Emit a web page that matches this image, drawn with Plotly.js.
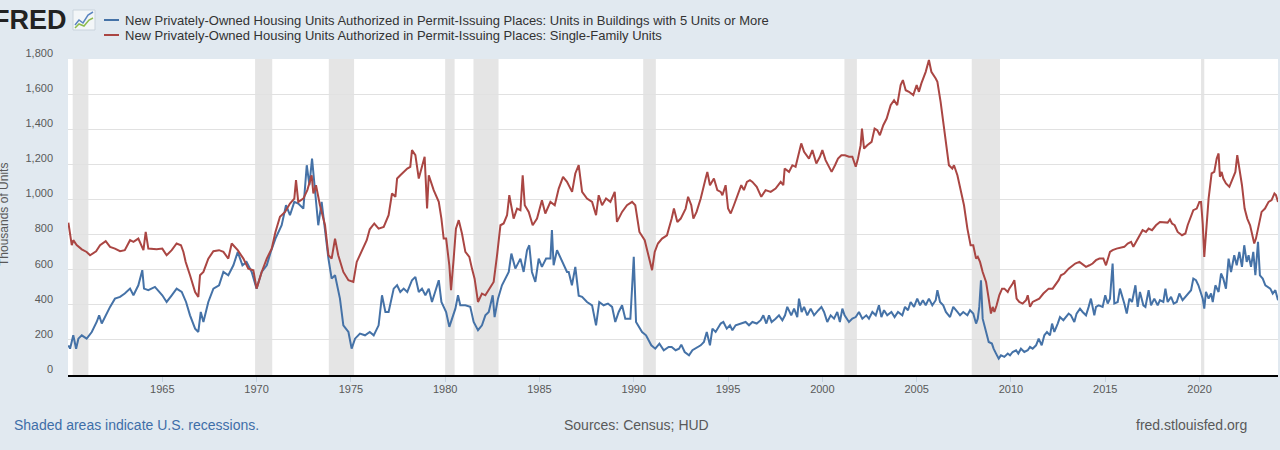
<!DOCTYPE html>
<html>
<head>
<meta charset="utf-8">
<script src="https://cdn.plot.ly/plotly-3.0.1.min.js"></script>
<style>
html,body{margin:0;padding:0;background:#e1e9f0;}
#chart{width:1280px;height:450px;}
</style>
</head>
<body>
<div id="chart"></div>
<script>
// ---- Series: Units in Buildings with 5 Units or More (thousands, SAAR) ----
const multiDates = [
1960.02,1960.11,1960.28,1960.43,1960.55,1960.73,1960.99,1961.26,1961.52,1961.65,1961.79,1962.0,1962.23,1962.49,1962.76,
1963.01,1963.29,1963.47,1963.73,1963.94,1964.03,1964.26,1964.61,1965.0,1965.23,1965.5,1965.76,1966.03,1966.26,1966.47,
1966.74,1966.91,1967.04,1967.18,1967.44,1967.71,1968.01,1968.24,1968.5,1968.77,1969.0,1969.25,1969.47,1969.74,1970.0,
1970.27,1970.54,1970.75,1971.0,1971.33,1971.56,1971.77,1972.0,1972.21,1972.48,1972.66,1972.8,1972.94,1973.1,1973.27,
1973.45,1973.63,1973.81,1973.98,1974.16,1974.42,1974.6,1974.87,1975.04,1975.22,1975.48,1975.75,
1976.0,1976.21,1976.47,1976.65,1976.83,1977.0,1977.27,1977.45,1977.62,1977.8,1977.99,1978.24,1978.42,1978.6,1978.77,
1978.95,1979.13,1979.3,1979.48,1979.66,1979.8,1980.05,1980.22,1980.36,1980.54,1980.68,1980.8,1981.07,1981.33,1981.51,
1981.74,1981.95,1982.13,1982.31,1982.52,1982.62,1982.8,1983.01,1983.19,1983.37,1983.51,1983.72,1983.99,1984.16,1984.34,
1984.46,1984.6,1984.78,1984.96,1985.13,1985.35,1985.58,1985.66,1985.75,1985.93,1986.2,1986.46,1986.55,1986.72,1986.9,
1987.08,1987.26,1987.52,1987.79,1988.0,1988.17,1988.4,1988.63,1988.85,1989.02,1989.2,1989.38,1989.55,1989.82,1990.0,
1990.12,1990.44,1990.65,1990.93,1991.14,1991.36,1991.59,1991.85,
1992.01,1992.22,1992.4,1992.52,1992.7,1992.93,1993.11,1993.33,1993.55,1993.72,1993.87,1994.04,1994.17,1994.34,1994.61,
1994.75,1994.93,1995.1,1995.23,1995.4,1995.7,1995.93,1996.11,1996.29,1996.52,1996.73,1996.87,1997.03,1997.17,1997.31,
1997.52,1997.7,1997.88,1998.02,1998.14,1998.35,1998.5,1998.67,1998.76,1998.9,1999.03,1999.2,1999.38,1999.56,1999.79,
1999.95,2000.09,2000.26,2000.44,2000.62,2000.79,2000.93,2001.06,2001.18,2001.41,2001.59,2001.77,2001.94,2002.12,2002.33,
2002.47,2002.65,2002.83,2003.0,2003.13,2003.27,2003.44,2003.66,2003.83,2004.01,2004.24,2004.38,2004.54,2004.68,2004.86,
2005.03,2005.18,2005.33,2005.48,2005.65,2005.83,2006.01,2006.1,2006.24,2006.41,2006.55,2006.77,2006.94,2007.16,2007.3,
2007.47,2007.69,2007.83,
2008.0,2008.15,2008.24,2008.32,2008.41,2008.5,2008.68,2008.82,2008.99,2009.08,2009.21,2009.35,2009.47,2009.65,2009.83,
2009.95,2010.09,2010.27,2010.39,2010.53,2010.71,2010.89,2011.01,2011.15,2011.33,2011.47,2011.63,2011.77,2011.91,2012.07,
2012.18,2012.3,2012.48,2012.6,2012.78,2012.92,2013.06,2013.18,2013.36,2013.48,2013.66,2013.8,2013.98,2014.12,2014.24,
2014.42,2014.51,2014.65,2014.86,2015.0,2015.13,2015.25,2015.39,2015.48,2015.66,2015.78,2015.89,2016.01,2016.14,2016.28,
2016.42,2016.6,2016.72,2016.84,2017.02,2017.13,2017.3,2017.43,2017.6,2017.78,2017.9,2018.08,2018.19,2018.31,2018.49,
2018.63,2018.79,2018.93,2019.1,2019.25,2019.42,2019.55,2019.67,2019.81,2019.94,2020.06,2020.17,2020.25,2020.34,2020.48,
2020.61,2020.7,2020.84,2021.01,2021.14,2021.26,2021.4,2021.54,2021.67,2021.84,2021.97,2022.11,2022.25,2022.37,2022.5,
2022.6,2022.73,2022.85,2022.96,2023.03,2023.1,2023.2,2023.35,2023.49,2023.61,2023.75,2023.88,2024.02,2024.16
];
const multiUnits = [
169,150,226,150,207,226,207,245,302,340,293,340,388,435,445,
464,492,454,511,597,492,483,502,454,416,454,492,473,416,340,
264,245,359,302,416,492,511,587,568,625,701,625,644,587,492,
587,625,701,777,853,967,910,986,977,948,1195,1081,1233,1043,853,
986,815,663,549,568,435,283,245,150,207,236,226,
245,226,283,454,359,359,492,511,473,492,473,540,559,473,492,
454,492,416,473,540,416,359,274,321,378,454,397,397,388,302,
255,283,340,359,454,330,435,511,549,587,692,606,663,587,711,
739,587,530,663,616,663,663,825,625,711,644,587,587,511,616,
452,445,416,397,283,416,397,407,388,302,359,397,321,321,673,
302,245,226,169,150,179,141,160,
160,141,150,173,131,112,141,154,169,188,245,169,264,245,293,
302,264,283,255,283,293,302,283,302,293,312,340,293,340,302,
321,340,312,340,388,340,378,330,435,359,388,340,378,340,369,
388,359,302,340,321,359,302,378,340,302,321,330,359,321,340,
321,359,340,397,330,369,340,359,330,359,340,388,369,416,388,
435,397,426,397,435,397,426,483,416,397,359,330,388,359,340,
359,340,369,
350,293,321,388,540,321,245,188,179,150,122,93,112,103,122,
112,131,141,122,150,131,141,160,150,169,207,169,226,245,226,
293,245,293,330,312,330,350,340,302,350,378,359,340,388,435,
340,388,397,388,454,407,435,635,407,416,492,454,407,350,435,
416,511,388,473,397,388,483,397,435,397,426,416,492,416,445,
407,416,464,426,445,473,483,549,540,511,473,435,378,473,435,
464,416,511,473,578,549,492,663,587,682,625,701,616,739,644,
682,616,701,568,663,758,568,549,511,502,492,464,483,426
];

// ---- Series: Single-Family Units (thousands, SAAR) ----
const singleDates = [
1960.02,1960.2,1960.28,1960.46,1960.73,1960.99,1961.17,1961.49,1961.7,1962.0,1962.23,1962.49,1962.76,1963.01,1963.29,
1963.47,1963.73,1964.0,1964.12,1964.26,1964.7,1965.0,1965.23,1965.5,1965.76,1965.99,1966.12,1966.24,1966.47,1966.74,
1966.91,1967.0,1967.18,1967.44,1967.71,1968.01,1968.24,1968.5,1968.68,1969.0,1969.3,1969.56,1969.83,1970.0,1970.27,
1970.54,1970.8,1971.0,1971.24,1971.51,1971.77,1972.0,1972.09,1972.21,1972.48,1972.69,1972.92,1973.01,1973.15,1973.36,
1973.63,1973.81,1973.98,1974.16,1974.33,1974.6,1974.87,1975.13,1975.31,1975.57,1975.84,
1976.0,1976.24,1976.47,1976.74,1977.0,1977.18,1977.36,1977.45,1977.62,1977.99,1978.15,1978.24,1978.42,1978.6,1978.91,
1979.04,1979.13,1979.39,1979.66,1979.8,1979.92,1980.05,1980.22,1980.31,1980.45,1980.57,1980.72,1980.89,1981.07,1981.28,
1981.42,1981.56,1981.74,1981.95,1982.13,1982.34,1982.57,1982.75,1982.93,1983.1,1983.28,1983.4,1983.63,1983.81,1983.99,
1984.11,1984.22,1984.43,1984.64,1984.87,1985.13,1985.31,1985.58,1985.81,1986.02,1986.25,1986.46,1986.73,1986.9,1987.08,
1987.26,1987.52,1987.79,1988.0,1988.14,1988.32,1988.53,1988.76,1988.99,1989.11,1989.38,1989.64,1989.91,1990.08,1990.3,
1990.58,1990.79,1990.97,1991.11,1991.28,1991.5,1991.76,
1992.01,1992.13,1992.31,1992.49,1992.75,1992.88,1993.05,1993.16,1993.33,1993.55,1993.81,1993.9,1994.04,1994.25,1994.43,
1994.61,1994.7,1994.87,1995.0,1995.14,1995.31,1995.58,1995.7,1995.84,1996.0,1996.16,1996.29,1996.52,1996.76,1996.99,
1997.26,1997.52,1997.79,1997.93,1998.0,1998.23,1998.41,1998.58,1998.76,1998.88,1999.03,1999.29,1999.47,1999.68,1999.87,
2000.0,2000.17,2000.3,2000.49,2000.67,2000.83,2001.01,2001.2,2001.41,2001.59,2001.77,2001.89,2002.03,2002.1,2002.21,
2002.38,2002.61,2002.77,2002.91,2003.05,2003.23,2003.41,2003.62,2003.8,2003.97,2004.15,2004.27,2004.42,2004.59,2004.82,
2005.0,2005.12,2005.25,2005.48,2005.65,2005.78,2006.01,2006.1,2006.27,2006.41,2006.54,2006.71,2006.89,2006.98,2007.16,
2007.37,2007.51,2007.69,2007.86,
2008.0,2008.15,2008.24,2008.36,2008.5,2008.68,2008.82,2008.94,2009.03,2009.12,2009.24,2009.38,2009.53,2009.65,2009.83,
2009.91,2010.06,2010.18,2010.3,2010.44,2010.62,2010.8,2010.89,2011.01,2011.15,2011.33,2011.5,2011.72,2012.0,2012.21,
2012.35,2012.53,2012.65,2012.83,2013.06,2013.18,2013.41,2013.63,2013.8,2013.98,2014.16,2014.33,2014.51,2014.69,2014.9,
2015.04,2015.25,2015.39,2015.6,2015.83,2016.01,2016.19,2016.37,2016.49,2016.67,2016.84,2016.98,2017.16,2017.3,2017.48,
2017.69,2017.9,2018.13,2018.31,2018.43,2018.54,2018.68,2018.84,2019.07,2019.25,2019.37,2019.55,2019.67,2019.85,2019.99,
2020.08,2020.17,2020.25,2020.38,2020.48,2020.64,2020.78,2020.91,2021.01,2021.08,2021.17,2021.26,2021.4,2021.58,2021.76,
2021.9,2022.0,2022.11,2022.25,2022.39,2022.53,2022.68,2022.82,2022.9,2022.99,2023.13,2023.29,2023.47,2023.66,2023.82,
2023.97,2024.05,2024.16
];
const singleUnits = [
868,740,768,740,716,701,682,705,739,762,730,720,705,711,768,
758,777,711,815,720,716,720,682,711,749,739,701,644,568,473,
445,568,587,663,705,711,701,663,749,711,663,606,597,492,587,
663,720,815,901,929,977,1005,1110,986,1005,1053,1138,1034,1081,967,
853,682,663,777,682,587,540,530,644,701,768,
830,863,834,844,910,1034,1015,1119,1138,1176,1186,1281,1252,1119,1243,
948,1138,1053,986,891,777,777,625,483,663,834,882,806,701,673,
606,549,416,464,454,492,530,682,853,863,910,1024,891,948,939,
1138,967,929,853,891,996,920,986,967,1062,1129,1100,1043,1148,1195,
1043,1005,986,910,1024,967,1005,986,1043,872,929,967,986,967,815,
768,682,597,701,749,777,796,
891,948,872,891,948,1015,967,891,929,1005,1119,1157,1081,1119,1053,
1043,1024,1081,948,920,967,1043,1081,1053,1100,1110,1100,1072,1015,1053,
1043,1062,1100,1081,1176,1157,1195,1186,1262,1319,1271,1233,1281,1205,1243,
1281,1224,1195,1157,1195,1233,1252,1252,1243,1243,1186,1233,1309,1404,1290,
1309,1328,1404,1395,1366,1423,1461,1537,1565,1537,1651,1680,1622,1613,1594,
1651,1613,1661,1727,1794,1727,1689,1670,1556,1442,1309,1195,1176,1195,1138,
1024,967,834,739,
739,663,673,644,587,530,435,350,388,359,397,454,492,492,473,
492,515,540,435,416,407,426,454,388,416,426,435,464,492,492,
511,540,568,578,606,616,635,644,629,616,625,635,654,663,663,
625,701,711,720,724,730,749,758,730,768,796,825,815,834,825,
853,872,872,868,886,863,853,815,796,806,853,910,939,948,986,
986,860,673,834,1005,1148,1157,1233,1262,1129,1157,1119,1091,1072,1119,
1157,1252,1176,1081,948,891,853,796,749,777,853,929,948,986,996,
1034,1025,986
];

// ---- Recessions (NBER), decimal years ----
const recessionStarts = [1960.25, 1969.92, 1973.83, 1980.0, 1981.5, 1990.5, 2001.17, 2007.92, 2020.08];
const recessionEnds   = [1961.08, 1970.83, 1975.17, 1980.5, 1982.83, 1991.17, 2001.83, 2009.42, 2020.25];

// ---- Axis ticks and texts ----
const yearTicks = [1965, 1970, 1975, 1980, 1985, 1990, 1995, 2000, 2005, 2010, 2015, 2020];
const unitTicks = [0, 200, 400, 600, 800, 1000, 1200, 1400, 1600, 1800];
const seriesNames = [
  "New Privately-Owned Housing Units Authorized in Permit-Issuing Places: Units in Buildings with 5 Units or More",
  "New Privately-Owned Housing Units Authorized in Permit-Issuing Places: Single-Family Units"
];
const seriesColors = ["#4572a7", "#aa4643"];

// ---- geometry helpers (pixel -> paper) ----
const W = 1280, H = 450, ML = 68, MR = 2, MT = 59, MB = 75;
const PW = W - ML - MR, PH = H - MT - MB;
const px = v => (v - ML) / PW;
const py = v => (H - MB - v) / PH;

const FONT = '"Liberation Sans", Arial, sans-serif';

const traces = [
  {x: multiDates, y: multiUnits, type: 'scatter', mode: 'lines', name: seriesNames[0],
   line: {color: seriesColors[0], width: 2}, hoverinfo: 'skip'},
  {x: singleDates, y: singleUnits, type: 'scatter', mode: 'lines', name: seriesNames[1],
   line: {color: seriesColors[1], width: 2}, hoverinfo: 'skip'}
];

const shapes = recessionStarts.map((s, i) => ({
  type: 'rect', xref: 'x', yref: 'paper', x0: s, x1: recessionEnds[i], y0: 0, y1: 1,
  fillcolor: '#e5e5e5', line: {width: 0}, layer: 'below'
}));

// legend swatches
[20, 35].forEach((yy, i) => {
  shapes.push({type: 'line', xref: 'paper', yref: 'paper', x0: px(104), x1: px(119), y0: py(yy), y1: py(yy),
    line: {color: seriesColors[i], width: 2}});
});
// FRED logo icon
shapes.push({type: 'rect', xref: 'paper', yref: 'paper', x0: px(73), x1: px(95), y0: py(30), y1: py(10),
  fillcolor: '#f3f6f8', line: {color: '#c9d3dc', width: 1}});
shapes.push({type: 'path', xref: 'paper', yref: 'paper',
  path: `M ${px(75)},${py(25)} L ${px(79)},${py(20)} L ${px(83)},${py(23)} L ${px(88)},${py(15)} L ${px(93)},${py(12)}`,
  line: {color: '#5b85c0', width: 1.5}});
shapes.push({type: 'path', xref: 'paper', yref: 'paper',
  path: `M ${px(75)},${py(28)} L ${px(79)},${py(24)} L ${px(84)},${py(26)} L ${px(89)},${py(20)} L ${px(93)},${py(18)}`,
  line: {color: '#8dbb4c', width: 1.5}});

const annotations = [
  {text: '<b>FRED</b>', xref: 'paper', yref: 'paper', x: px(69), y: py(20), xanchor: 'right', yanchor: 'middle',
   showarrow: false, font: {family: FONT, size: 27, color: '#222222'}},
  {text: seriesNames[0], xref: 'paper', yref: 'paper', x: px(123), y: py(20), xanchor: 'left', yanchor: 'middle',
   showarrow: false, font: {family: FONT, size: 13, color: '#333333'}},
  {text: seriesNames[1], xref: 'paper', yref: 'paper', x: px(123), y: py(35), xanchor: 'left', yanchor: 'middle',
   showarrow: false, font: {family: FONT, size: 13, color: '#333333'}},
  {text: 'Thousands of Units', xref: 'paper', yref: 'paper', x: px(4), y: py(215), xanchor: 'center', yanchor: 'middle',
   textangle: -90, showarrow: false, font: {family: FONT, size: 12, color: '#595959'}},
  {text: 'Shaded areas indicate U.S. recessions.', xref: 'paper', yref: 'paper', x: px(12), y: py(425),
   xanchor: 'left', yanchor: 'middle', showarrow: false, font: {family: FONT, size: 14, color: '#3e6ea8'}},
  {text: 'Sources: Census; HUD', xref: 'paper', yref: 'paper', x: px(636), y: py(425),
   xanchor: 'center', yanchor: 'middle', showarrow: false, font: {family: FONT, size: 14, color: '#595959'}},
  {text: 'fred.stlouisfed.org', xref: 'paper', yref: 'paper', x: px(1249), y: py(425),
   xanchor: 'right', yanchor: 'middle', showarrow: false, font: {family: FONT, size: 14, color: '#595959'}}
];

const layout = {
  width: W, height: H,
  margin: {l: ML, r: MR, t: MT, b: MB, pad: 0},
  paper_bgcolor: '#e1e9f0',
  plot_bgcolor: '#ffffff',
  showlegend: false,
  hovermode: false,
  font: {family: FONT, size: 11, color: '#595959'},
  xaxis: {
    type: 'linear', range: [1960.0, 2024.16], fixedrange: true,
    tickvals: yearTicks, ticktext: yearTicks.map(String),
    showgrid: false, zeroline: false,
    showline: true, linecolor: '#000000', linewidth: 2,
    ticks: 'outside', ticklen: 5, tickcolor: '#c5d3e0', tickwidth: 1,
    ticklabelstandoff: -2,
    tickfont: {family: FONT, size: 11, color: '#595959'}
  },
  yaxis: {
    range: [0, 1800], fixedrange: true,
    tickvals: unitTicks, tickformat: ',d',
    showgrid: true, gridcolor: '#e1e1e1', gridwidth: 1,
    zeroline: false, showline: false, ticks: '',
    ticklabelstandoff: 14, ticklabelshift: -6,
    tickfont: {family: FONT, size: 11, color: '#595959'}
  },
  shapes: shapes,
  annotations: annotations
};

Plotly.newPlot('chart', traces, layout, {displayModeBar: false, staticPlot: true});
</script>
</body>
</html>
